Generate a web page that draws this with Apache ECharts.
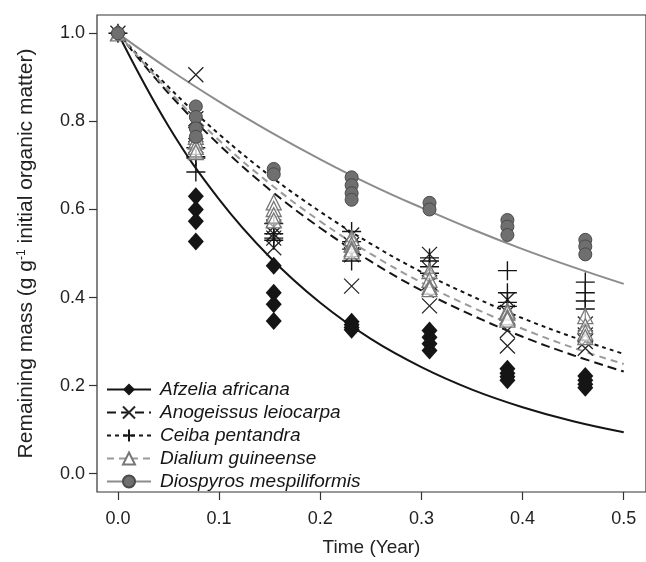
<!DOCTYPE html>
<html>
<head>
<meta charset="utf-8">
<script src="https://cdn.jsdelivr.net/npm/echarts@6/dist/echarts.min.js"></script>
<style>html,body{margin:0;padding:0;background:#fff;}#c{width:646px;height:562px;}</style>
</head>
<body>
<div id="c"></div>
<script>
// ---- data ----
const speciesNames = ['Afzelia africana','Anogeissus leiocarpa','Ceiba pentandra','Dialium guineense','Diospyros mespiliformis'];
const xTicks = [0, 0.1, 0.2, 0.3, 0.4, 0.5];
const yTicks = [0, 0.2, 0.4, 0.6, 0.8, 1.0];
const sampleTimes = [0, 0.077, 0.154, 0.231, 0.308, 0.385, 0.462];

// observed remaining mass, one list per sampling time
const afzeliaObs = [[1],[0.63,0.60,0.573,0.527],[0.472,0.411,0.385,0.347],[0.345,0.338,0.332,0.327],[0.325,0.31,0.295,0.28],[0.238,0.228,0.22,0.212],[0.222,0.212,0.203,0.195]];
const anogeissusObs = [[1],[0.906,0.806,0.77,0.745],[0.56,0.545,0.535,0.513],[0.542,0.52,0.497,0.426],[0.498,0.465,0.434,0.381],[0.395,0.366,0.325,0.29],[0.34,0.315,0.3,0.285]];
const ceibaObs = [[1],[0.74,0.72,0.717,0.685],[0.568,0.545,0.535,0.53],[0.55,0.527,0.51,0.483],[0.49,0.483,0.47,0.455],[0.461,0.411,0.389,0.38],[0.435,0.411,0.392,0.374]];
const dialiumObs = [[1],[0.765,0.754,0.742,0.73],[0.616,0.601,0.587,0.575],[0.535,0.52,0.51,0.505],[0.46,0.44,0.424,0.419],[0.37,0.366,0.355,0.35],[0.358,0.335,0.32,0.31]];
const diospyrosObs = [[1],[0.834,0.81,0.784,0.765],[0.692,0.68],[0.673,0.655,0.637,0.622],[0.615,0.6],[0.576,0.561,0.542],[0.531,0.516,0.498]];

// fitted curves
const curveTimes = [0, 0.05, 0.1, 0.15, 0.2, 0.25, 0.3, 0.35, 0.4, 0.45, 0.5];
const afzeliaFit    = [1, 0.789, 0.623, 0.492, 0.388, 0.306, 0.242, 0.191, 0.151, 0.119, 0.094];
const anogeissusFit = [1, 0.864, 0.747, 0.645, 0.558, 0.482, 0.416, 0.360, 0.311, 0.269, 0.232];
const ceibaFit      = [1, 0.878, 0.771, 0.677, 0.595, 0.522, 0.458, 0.403, 0.353, 0.310, 0.272];
const dialiumFit    = [1, 0.870, 0.757, 0.659, 0.573, 0.499, 0.434, 0.378, 0.329, 0.286, 0.249];
const diospyrosFit  = [1, 0.919, 0.845, 0.777, 0.714, 0.656, 0.604, 0.555, 0.510, 0.469, 0.431];

// ---- build ----
function pairs(ts, vs){ return ts.map((t,i)=>[t, vs[i]]); }
function obsPairs(obs){ const out=[]; obs.forEach((list,i)=>list.forEach(v=>out.push([sampleTimes[i], v]))); return out; }

const BLACK = '#151515', GRAY = '#8c8c8c', GRAY2 = '#9a9a9a';
const xPath = 'path://M0,0L10,10M10,0L0,10';
const plusPath = 'path://M5,0L5,10M0,5L10,5';

const styles = [
  {fit: afzeliaFit, obs: afzeliaObs, color: BLACK, type: 'solid', symbol: 'diamond', size: [16,18],
   item: {color: BLACK, borderColor: BLACK, borderWidth: 0, opacity: 1}},
  {fit: anogeissusFit, obs: anogeissusObs, color: BLACK, type: [9,5], symbol: xPath, size: 15,
   item: {color: 'none', borderColor: '#262626', borderWidth: 1.3, opacity: 1}},
  {fit: ceibaFit, obs: ceibaObs, color: BLACK, type: [4,4], symbol: plusPath, size: 19,
   item: {color: 'none', borderColor: '#151515', borderWidth: 1.4, opacity: 1}},
  {fit: dialiumFit, obs: dialiumObs, color: GRAY2, type: [7,5], symbol: 'triangle', size: 15,
   item: {color: 'rgba(255,255,255,0.55)', borderColor: '#777', borderWidth: 1.3, opacity: 1}},
  {fit: diospyrosFit, obs: diospyrosObs, color: GRAY, type: 'solid', symbol: 'circle', size: 13,
   item: {color: '#6f6f6f', borderColor: '#4a4a4a', borderWidth: 1, opacity: 1}}
];

const series = [];
styles.forEach((s, i) => {
  series.push({
    name: speciesNames[i], type: 'line', data: pairs(curveTimes, s.fit), smooth: 0.4,
    showSymbol: false, symbol: s.symbol, symbolSize: s.size, z: 2,
    lineStyle: {color: s.color, width: 2, type: s.type},
    itemStyle: s.item, emphasis: {disabled: true}, silent: true
  });
});
styles.forEach((s, i) => {
  series.push({
    name: speciesNames[i], type: 'scatter', data: obsPairs(s.obs),
    symbol: s.symbol, symbolSize: s.size, z: 3 + i,
    itemStyle: s.item, emphasis: {disabled: true}, silent: true
  });
});

const chart = echarts.init(document.getElementById('c'), null, {renderer: 'canvas'});
const FONT = 'Liberation Sans, Arial, sans-serif';
chart.setOption({
  animation: false,
  backgroundColor: '#fff',
  grid: {left: 97, right: -2, top: 15, bottom: 65, show: true, borderColor: '#333', borderWidth: 1.2, backgroundColor: 'transparent'},
  xAxis: {
    type: 'value', min: -0.0207, max: 0.522,
    name: 'Time (Year)', nameLocation: 'middle', nameGap: 46,
    nameTextStyle: {fontFamily: FONT, fontSize: 19, color: '#222'},
    axisLine: {show: false, onZero: false},
    axisTick: {show: true, inside: false, length: 8, lineStyle: {color: '#333', width: 1.2}, customValues: xTicks},
    axisLabel: {fontFamily: FONT, fontSize: 18, color: '#222', margin: 18, customValues: xTicks,
      formatter: v => v.toFixed(1)},
    splitLine: {show: false}
  },
  yAxis: {
    type: 'value', min: -0.0416, max: 1.0416,
    name: 'Remaining mass (g g{sup|-1} initial organic matter)', nameLocation: 'middle', nameGap: 60,
    nameTextStyle: {fontFamily: FONT, fontSize: 21, color: '#222',
      rich: {sup: {fontFamily: FONT, fontSize: 12, color: '#222', verticalAlign: 'top', padding: [0,0,9,0]}}},
    axisLine: {show: false, onZero: false},
    axisTick: {show: true, inside: false, length: 8, lineStyle: {color: '#333', width: 1.2}, customValues: yTicks},
    axisLabel: {fontFamily: FONT, fontSize: 18, color: '#222', margin: 12, customValues: yTicks,
      formatter: v => v.toFixed(1)},
    splitLine: {show: false}
  },
  legend: {
    data: speciesNames, orient: 'vertical', left: 106, top: 380,
    itemWidth: 44, itemHeight: 15, itemGap: 4, padding: 0,
    textStyle: {fontFamily: FONT, fontSize: 19, fontStyle: 'italic', color: '#151515', padding: [0,0,0,4]},
    selectedMode: false
  },
  series: series
});
</script>
</body>
</html>
